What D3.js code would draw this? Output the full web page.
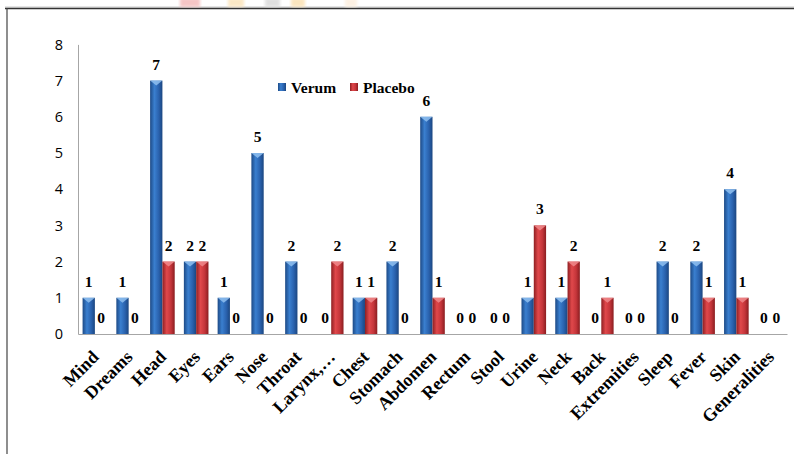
<!DOCTYPE html>
<html>
<head>
<meta charset="utf-8">
<script src="https://cdn.jsdelivr.net/npm/d3@7"></script>
<style>
  body { margin: 0; background: #fff; }
  svg { display: block; }
</style>
</head>
<body>
<div id="wrapper"></div>
<script>
const categories = ["Mind", "Dreams", "Head", "Eyes", "Ears", "Nose", "Throat", "Larynx,…", "Chest", "Stomach",
  "Abdomen", "Rectum", "Stool", "Urine", "Neck", "Back", "Extremities", "Sleep", "Fever", "Skin", "Generalities"];
const verum   = [1, 1, 7, 2, 1, 5, 2, 0, 1, 2, 6, 0, 0, 1, 1, 0, 0, 2, 2, 4, 0];
const placebo = [0, 0, 2, 2, 0, 0, 0, 2, 1, 0, 1, 0, 0, 3, 2, 1, 0, 0, 1, 1, 0];
const seriesNames = ["Verum", "Placebo"];
const yTicks = [0, 1, 2, 3, 4, 5, 6, 7, 8];

const data = categories.map((c, i) => ({cat: c, Verum: verum[i], Placebo: placebo[i]}));

let dimensions = {
  width: 794,
  height: 454,
  margin: {top: 44.4, left: 78, bottom: 120, right: 7}
}
dimensions.boundedWidth = dimensions.width - dimensions.margin.left - dimensions.margin.right;
dimensions.boundedHeight = 334 - dimensions.margin.top;

const wrapper = d3.select("#wrapper").append("svg")
  .attr("width", dimensions.width)
  .attr("height", dimensions.height);

const defs = wrapper.append("defs");
const colors = {
  Verum: ["#1d4a86", "#3a7fcf", "#2a62ae", "#1b4680"],
  Placebo: ["#8e1f22", "#e0484b", "#c4353a", "#8a1d20"]
};
seriesNames.forEach(s => {
  const g = defs.append("linearGradient").attr("id", "grad-" + s)
    .attr("x1", "0%").attr("x2", "100%").attr("y1", "0%").attr("y2", "0%");
  g.append("stop").attr("offset", "0%").attr("stop-color", colors[s][0]);
  g.append("stop").attr("offset", "35%").attr("stop-color", colors[s][1]);
  g.append("stop").attr("offset", "70%").attr("stop-color", colors[s][2]);
  g.append("stop").attr("offset", "100%").attr("stop-color", colors[s][3]);
});
defs.append("filter").attr("id", "blur").append("feGaussianBlur").attr("stdDeviation", 1.5);

// outer frame (cropped)
wrapper.append("line").attr("x1", 5).attr("x2", 794).attr("y1", 7).attr("y2", 7)
  .attr("stroke", "#c8c8c8").attr("stroke-width", 1);
wrapper.append("line").attr("x1", 5).attr("x2", 794).attr("y1", 8.5).attr("y2", 8.5)
  .attr("stroke", "#333").attr("stroke-width", 1.5);
wrapper.append("line").attr("x1", 7).attr("x2", 7).attr("y1", 8).attr("y2", 454)
  .attr("stroke", "#444").attr("stroke-width", 1.2);

// faint watermark smudges at top edge
const smudges = [[180, 20, "#f4b8b8"], [228, 16, "#fbe3b8"], [265, 15, "#d8d8d8"], [291, 14, "#fbe0b0"], [345, 12, "#fdeedd"]];
wrapper.selectAll(".smudge").data(smudges).enter().append("rect")
  .attr("x", d => d[0]).attr("y", -2).attr("width", d => d[1]).attr("height", 9)
  .attr("fill", d => d[2]).attr("opacity", 0.8).attr("filter", "url(#blur)");

const xScale = d3.scaleBand()
  .domain(categories)
  .range([dimensions.margin.left, dimensions.margin.left + dimensions.boundedWidth]);

const barW = 12.3;
const xSub = d3.scaleBand()
  .domain(seriesNames)
  .range([xScale.bandwidth() / 2 - barW, xScale.bandwidth() / 2 + barW]);

const yScale = d3.scaleLinear()
  .domain([0, 8])
  .range([334, dimensions.margin.top]);

// y axis
const yAxisGen = d3.axisLeft(yScale).tickValues(yTicks).tickSize(0).tickPadding(15);
const axisY = wrapper.append("g")
  .attr("transform", `translate(${dimensions.margin.left},0)`)
  .call(yAxisGen);
axisY.select(".domain").attr("stroke", "#a6a6a6");
axisY.selectAll("text")
  .attr("font-family", "'Open Sans', sans-serif")
  .attr("font-size", 14.5)
  .attr("fill", "#000");

// bars
const groups = wrapper.append("g").selectAll("g")
  .data(data).enter().append("g")
  .attr("transform", d => `translate(${xScale(d.cat)},0)`);

const bars = groups.selectAll("g.bar")
  .data(d => seriesNames.map(s => ({s: s, v: d[s]})))
  .enter().append("g").attr("class", "bar");

bars.filter(d => d.v > 0).append("rect")
  .attr("x", d => xSub(d.s))
  .attr("y", d => yScale(d.v))
  .attr("width", xSub.bandwidth())
  .attr("height", d => yScale(0) - yScale(d.v))
  .attr("fill", d => `url(#grad-${d.s})`);

// bevelled top
bars.filter(d => d.v > 0).append("path")
  .attr("d", d => {
    const x0 = xSub(d.s), w = xSub.bandwidth(), y0 = yScale(d.v);
    return `M${x0},${y0} L${x0 + w},${y0} L${x0 + w / 2},${y0 + 5} Z`;
  })
  .attr("fill", d => d.s == "Verum" ? "#8fc0f0" : "#f08a8c")
  .attr("opacity", 0.85);

// value labels
bars.append("text")
  .attr("x", d => xSub(d.s) + xSub.bandwidth() / 2)
  .attr("y", d => yScale(d.v) - 11)
  .attr("text-anchor", "middle")
  .attr("font-family", "'Liberation Serif', serif")
  .attr("font-weight", "bold")
  .attr("font-size", 15.5)
  .text(d => d.v);

// x axis
const xAxisGen = d3.axisBottom(xScale).tickSize(0).tickPadding(0);
const axisX = wrapper.append("g")
  .attr("transform", `translate(0,334)`)
  .call(xAxisGen);
axisX.select(".domain").attr("stroke", "#a6a6a6");
axisX.selectAll("text")
  .attr("font-family", "'Liberation Serif', serif")
  .attr("font-weight", "bold")
  .attr("font-size", 18)
  .attr("fill", "#000")
  .attr("text-anchor", "end")
  .attr("dy", null)
  .attr("y", 0)
  .attr("transform", "translate(5,24) rotate(-45)");

// legend
const legend = wrapper.append("g").attr("transform", "translate(278,83)");
const legX = [0, 72];
seriesNames.forEach((s, i) => {
  legend.append("rect").attr("x", legX[i]).attr("y", 0).attr("width", 8).attr("height", 8)
    .attr("fill", `url(#grad-${s})`);
  legend.append("text").attr("x", legX[i] + 13).attr("y", 9.5)
    .attr("font-family", "'Liberation Serif', serif")
    .attr("font-weight", "bold")
    .attr("font-size", 15.5)
    .text(s);
});
</script>
</body>
</html>
